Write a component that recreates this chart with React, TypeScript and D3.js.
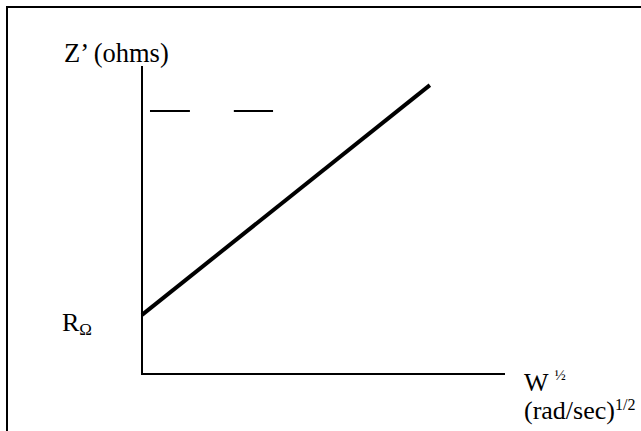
import React from "react";
import * as d3 from "d3";

// Warburg-type plot: Z' vs W^1/2 (schematic, arbitrary units)
const lineW = [0, 7.93];
const lineZ = [1.92, 9.38];
const dashLevel = 8.54;
const dashStarts = [0.22, 2.53];
const dashEnds = [1.32, 3.61];
const xDomain = [0, 10];
const yDomain = [0, 10];
const yLabel = "Z\u2019 (ohms)";
const interceptLabel = "R";
const interceptSub = "\u03A9";
const xLabel1 = "W";
const xLabel1Sup = "\u00BD";
const xLabel2 = "(rad/sec)";
const xLabel2Sup = "1/2";

export default function App() {
  const W = 641;
  const H = 431;
  const x = d3.scaleLinear().domain(xDomain).range([142, 505]);
  const y = d3.scaleLinear().domain(yDomain).range([374, 66]);
  const pts: [number, number][] = lineW.map((w, i) => [w, lineZ[i]]);
  const line = d3
    .line<[number, number]>()
    .x((d) => x(d[0]))
    .y((d) => y(d[1]));
  const fontStyle = { fontFamily: "\"Liberation Serif\", \"Times New Roman\", Times, serif" };
  return (
    <svg
      width={W}
      height={H}
      style={{ position: "absolute", left: 0, top: 0, background: "#fff" }}
    >
      <rect x={0} y={0} width={W} height={H} fill="#fff" />
      <rect x={7} y={7} width={W + 20} height={H + 20} fill="none" stroke="#000" strokeWidth={2} />
      {/* axes */}
      <line x1={x(0)} y1={y(yDomain[1])} x2={x(0)} y2={y(0) + 1} stroke="#000" strokeWidth={2} />
      <line x1={x(0)} y1={y(0)} x2={x(xDomain[1])} y2={y(0)} stroke="#000" strokeWidth={2} />
      {/* main line */}
      <path d={line(pts) || ""} fill="none" stroke="#000" strokeWidth={4} />
      {/* dashes */}
      {dashStarts.map((s, i) => (
        <line key={i} x1={x(s)} x2={x(dashEnds[i])} y1={y(dashLevel)} y2={y(dashLevel)} stroke="#000" strokeWidth={2} />
      ))}
      <g style={fontStyle} fill="#000">
        <text x={64} y={62} fontSize={26.5}>{yLabel}</text>
        <text x={62} y={331} fontSize={26}>
          {interceptLabel}
          <tspan fontSize={17} dy={4}>{interceptSub}</tspan>
        </text>
        <text x={524} y={391} fontSize={26}>
          {xLabel1}
          <tspan fontSize={15} dx={6} dy={-11}>{xLabel1Sup}</tspan>
        </text>
        <text x={524} y={419} fontSize={26}>
          {xLabel2}
          <tspan fontSize={16} dy={-9}>{xLabel2Sup}</tspan>
        </text>
      </g>
    </svg>
  );
}
